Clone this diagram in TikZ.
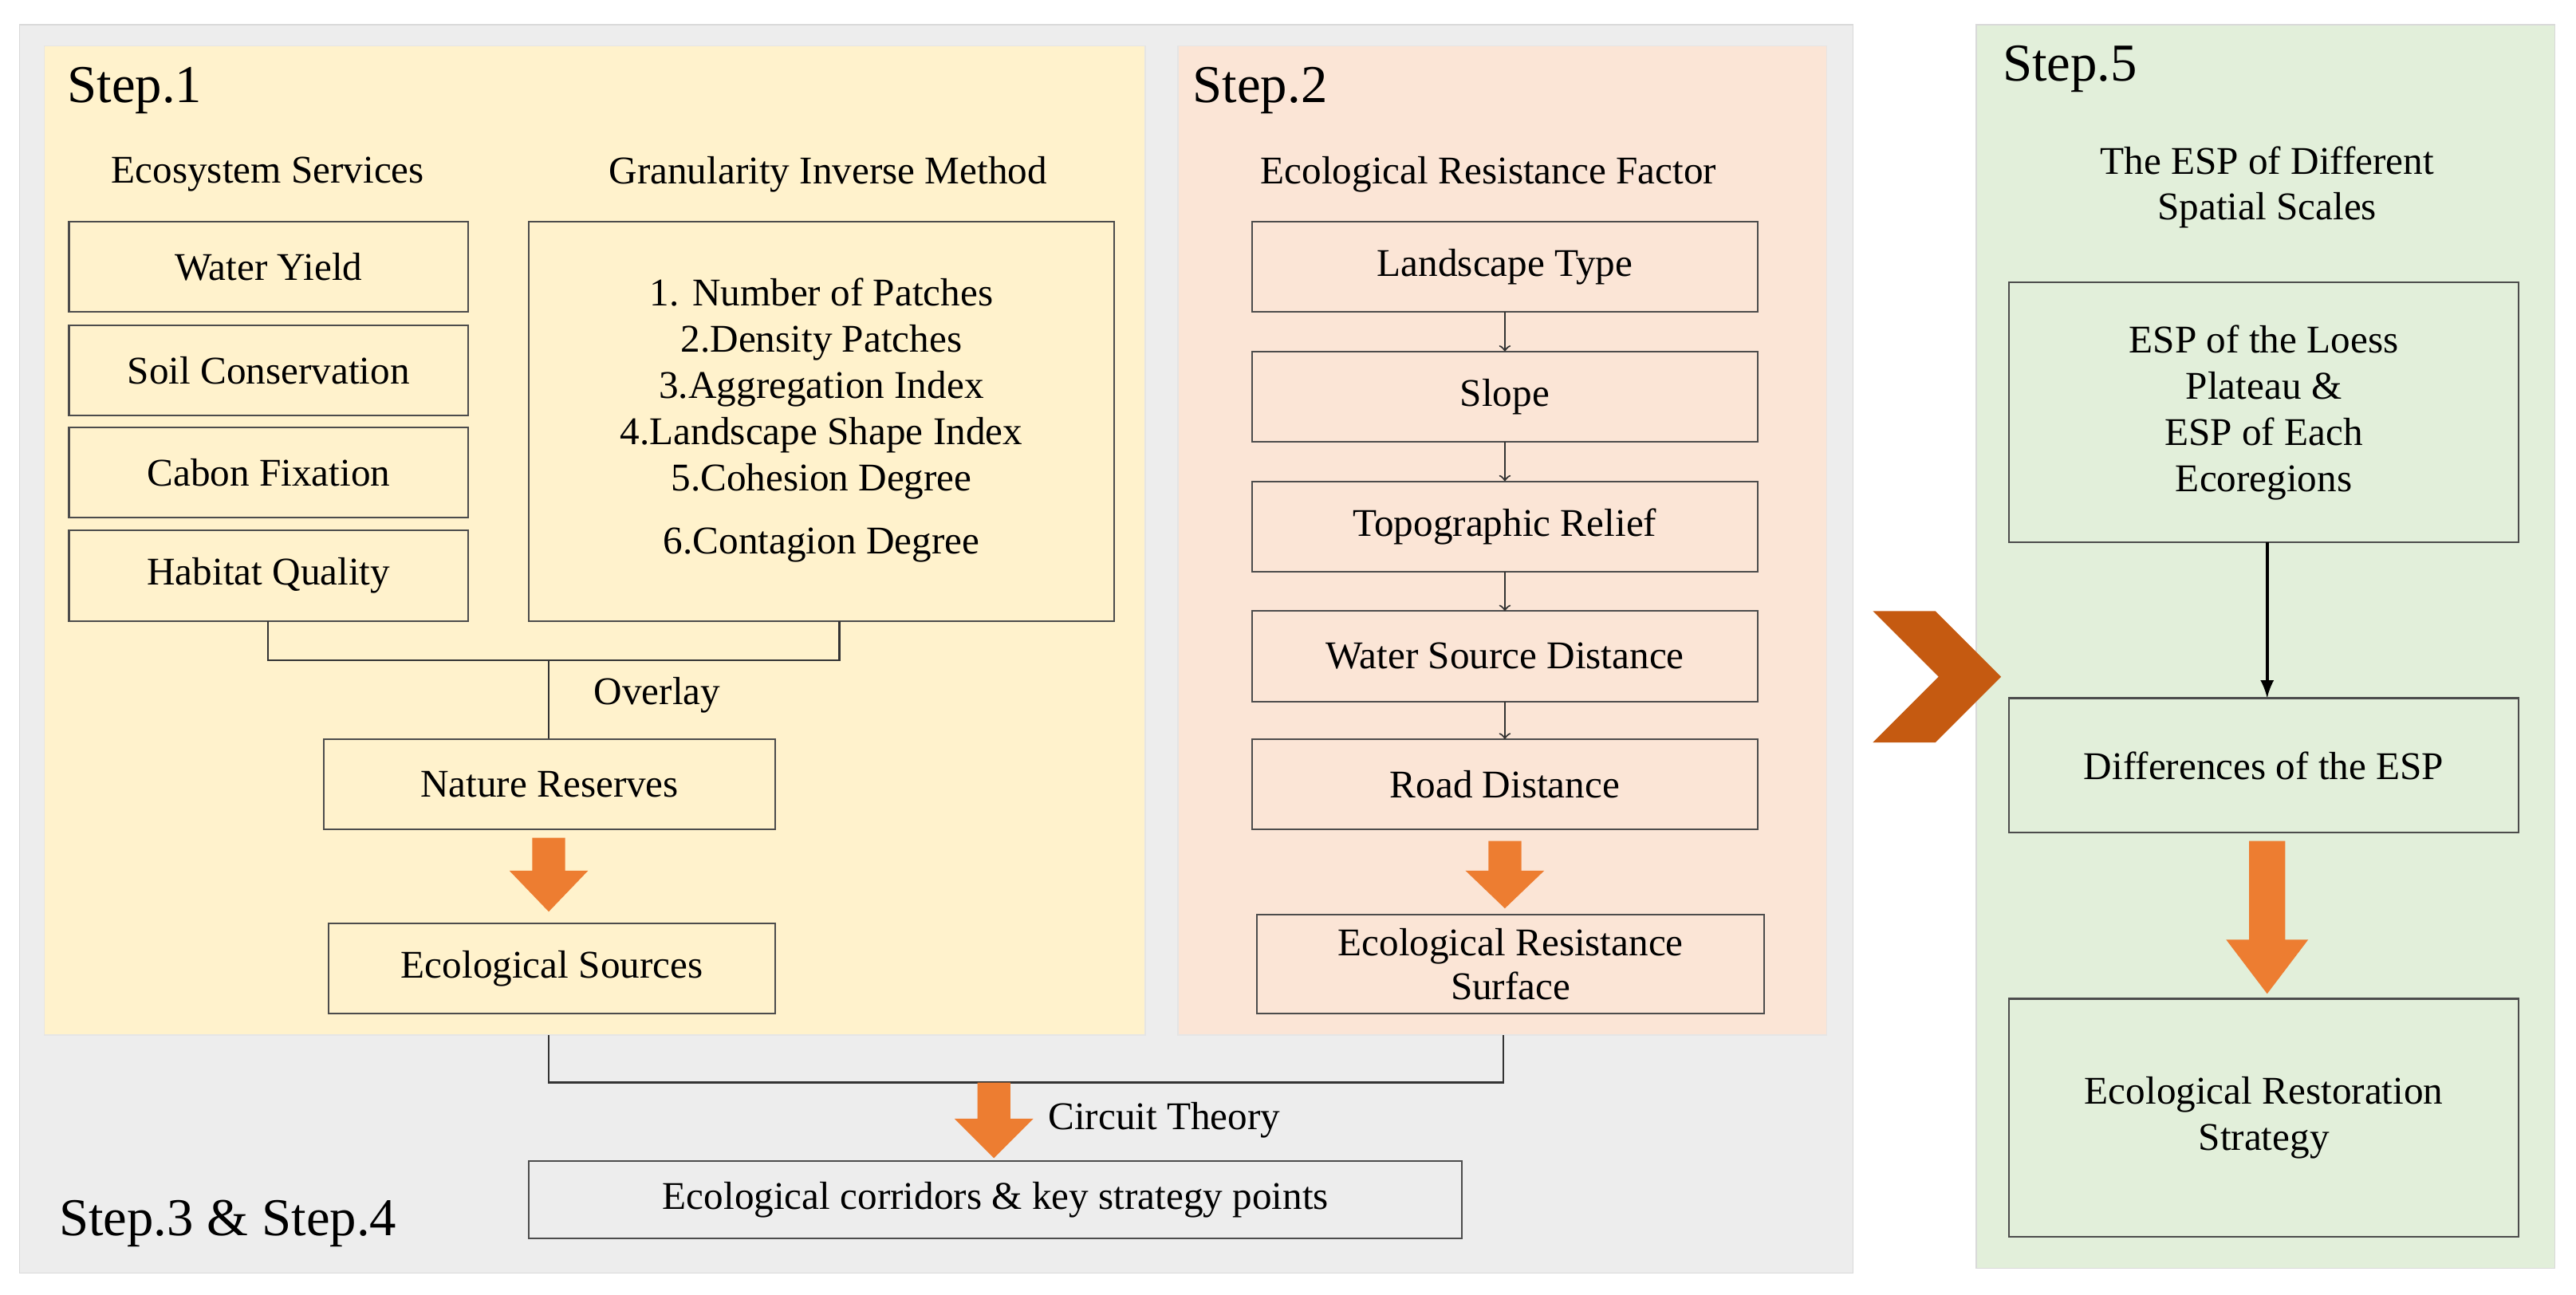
\documentclass[tikz,border=0pt]{standalone}
\usepackage{fontspec}
\setmainfont{Liberation Serif}
\begin{document}
\begin{tikzpicture}[x=0.0206cm,y=-0.0206cm,
  bx/.style={draw=black!70,line width=0.6pt,fill=none,inner sep=0pt},
  t/.style={font=\fontsize{14}{16}\selectfont,align=center},
  st/.style={font=\fontsize{19}{21}\selectfont,anchor=west},
  ln/.style={draw=black!80,line width=0.7pt},
  sm/.style={->,draw=black!80,line width=0.6pt},
  oa/.style={fill=orange!80!red!70!yellow,draw=none}]
\definecolor{gbg}{HTML}{EDEDED}\definecolor{ybg}{HTML}{FFF2CC}
\definecolor{sbg}{HTML}{FBE5D6}\definecolor{grn}{HTML}{E2EFDA}
\definecolor{org}{HTML}{ED7D31}\definecolor{chev}{HTML}{C55A11}
\useasboundingbox (0,0) rectangle (1568,788);
\fill[white] (0,0) rectangle (1568,788);
\fill[gbg,draw=black!15] (12,15) rectangle (1128,775);
\fill[ybg,draw=black!10] (27,28) rectangle (697,630);
\fill[sbg,draw=black!10] (717,28) rectangle (1112,630);
\fill[grn,draw=black!15] (1203,15) rectangle (1555,772);
\node[st] (s1) at (35,55) {Step.1};
\node[st] (s2) at (720,55) {Step.2};
\node[st] (s5) at (1213,42) {Step.5};
\node[st] (s34) at (30,745) {Step.3 \& Step.4};
\node[t] (es) at (163,106) {Ecosystem Services};
\node[t] (gim) at (504,106) {Granularity Inverse Method};
\node[t] (erf) at (906,106) {Ecological Resistance Factor};
\draw[bx] (42,135) rectangle (285,190) node[midway,t] (wy) {Water Yield};
\draw[bx] (42,198) rectangle (285,253) node[midway,t] (sc) {Soil Conservation};
\draw[bx] (42,260) rectangle (285,315) node[midway,t] (cf) {Cabon Fixation};
\draw[bx] (42,323) rectangle (285,378) node[midway,t] (hq) {Habitat Quality};
\draw[bx] (322,135) rectangle (678,378);
\node[t,font=\fontsize{14}{16.5}\selectfont] (gl) at (500,256) {1. Number of Patches\\2.Density Patches\\3.Aggregation Index\\4.Landscape Shape Index\\5.Cohesion Degree\\[6pt]6.Contagion Degree};
\draw[ln] (163,378) -- (163,402) -- (511,402) -- (511,378);
\draw[ln] (334,402) -- (334,450);
\node[t] (ov) at (400,423) {Overlay};
\draw[bx] (197,450) rectangle (472,505) node[midway,t] (nr) {Nature Reserves};
\fill[org] (324,510) -- (344,510) -- (344,530) -- (358,530) -- (334,555) -- (310,530) -- (324,530) -- cycle;
\draw[bx] (200,562) rectangle (472,617) node[midway,t] (eso) {Ecological Sources};
\foreach \a/\b/\n/\txt in {135/190/lt/Landscape Type,214/269/sl/Slope,293/348/tr/Topographic Relief,372/427/ws/Water Source Distance,450/505/rd/Road Distance}
  \draw[bx] (762,\a) rectangle (1070,\b) node[midway,t] (\n) {\txt};
\foreach \a/\b in {190/214,269/293,348/372,427/450} \draw[sm] (916,\a) -- (916,\b);
\fill[org] (906,512) -- (926,512) -- (926,530) -- (940,530) -- (916,553) -- (892,530) -- (906,530) -- cycle;
\draw[bx] (765,557) rectangle (1074,617) node[midway,t,font=\fontsize{14}{15.5}\selectfont] (ers) {Ecological Resistance\\Surface};
\draw[ln] (334,630) -- (334,659) -- (915,659) -- (915,630);
\fill[org] (595,659) -- (615,659) -- (615,681) -- (629,681) -- (605,705) -- (581,681) -- (595,681) -- cycle;
\node[t,anchor=west] (ct) at (632,682) {Circuit Theory};
\draw[bx] (322,707) rectangle (890,754) node[midway,t] (ec) {Ecological corridors \& key strategy points};
\fill[chev] (1140,372) -- (1178,372) -- (1218,412) -- (1178,452) -- (1140,452) -- (1180,412) -- cycle;
\node[t] (tesp) at (1380,114) {The ESP of Different\\Spatial Scales};
\draw[bx] (1223,172) rectangle (1533,330) node[midway,t,font=\fontsize{14}{16.5}\selectfont] (elp) {ESP of the Loess\\Plateau \&\\ESP of Each\\Ecoregions};
\draw[-latex,line width=1.2pt] (1380,330) -- (1380,425);
\draw[bx] (1223,425) rectangle (1533,507) node[midway,t] (dif) {Differences of the ESP};
\fill[org] (1369,512) -- (1391,512) -- (1391,572) -- (1405,572) -- (1380,605) -- (1355,572) -- (1369,572) -- cycle;
\draw[bx] (1223,608) rectangle (1533,753) node[midway,t,font=\fontsize{14}{16.5}\selectfont] (ers2) {Ecological Restoration\\Strategy};
\end{tikzpicture}
\end{document}
